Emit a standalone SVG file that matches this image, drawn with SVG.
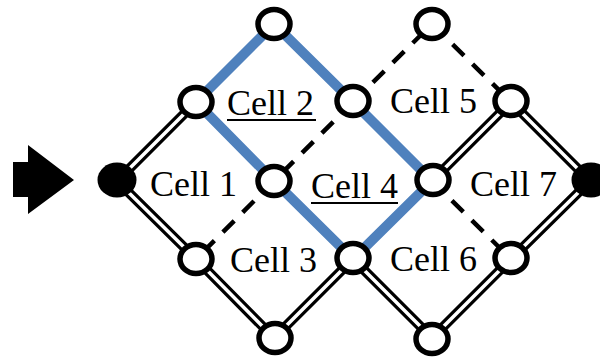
<svg xmlns="http://www.w3.org/2000/svg" width="600" height="358" viewBox="0 0 600 358">
<style>
.dbl-o{stroke:#000;stroke-width:10;fill:none}
.dbl-i{stroke:#fff;stroke-width:3.5;fill:none}
.dash{stroke:#000;stroke-width:4.5;stroke-dasharray:16 12;fill:none}
.blue{stroke:#4F81BD;stroke-width:10;fill:none;stroke-linecap:butt}
.open{fill:#fff;stroke:#000;stroke-width:5.5}
.full{fill:#000}
.lbl{font-family:"Liberation Serif","Times New Roman",serif;font-size:36px;fill:#000}
.ul{stroke:#000;stroke-width:2}
</style>
<rect width="600" height="358" fill="#fff"/>
<g id="arrow">
<polygon points="13,162 28,162 28,145 74,180 28,214 28,197 13,197" fill="#000"/>
</g>
<g id="connectors">
<g id="double-lines">
<path class="dbl-o" d="M117,181 L196,102 M117,181 L196,259 L274,338 L353,259 L432,338 L511,259 L590,181 L511,102 L432,181"/>
<path class="dbl-i" d="M117,181 L196,102 M117,181 L196,259 L274,338 L353,259 L432,338 L511,259 L590,181 L511,102 L432,181"/>
</g>
<g id="dashed-lines">
<path class="dash" d="M353,102 L432,24 L511,102"/>
<path class="dash" d="M353,102 L274,181 L196,259"/>
<path class="dash" d="M432,181 L511,259"/>
</g>
<g id="blue-path">
<path class="blue" d="M196,102 L274,24 L353,102 L432,181 L353,259 L274,181 Z"/>
</g>
</g>
<g id="node-A"><ellipse class="full" cx="117" cy="180" rx="19.5" ry="17.5"/></g>
<g id="node-G"><ellipse class="full" cx="591" cy="180" rx="19.5" ry="17.5"/></g>
<g id="node-B"><ellipse class="open" cx="196" cy="102" rx="16" ry="14.5"/></g>
<g id="node-C"><ellipse class="open" cx="274" cy="24" rx="16" ry="14.5"/></g>
<g id="node-D"><ellipse class="open" cx="353" cy="101" rx="16" ry="14.5"/></g>
<g id="node-E"><ellipse class="open" cx="432" cy="24" rx="16" ry="14.5"/></g>
<g id="node-F"><ellipse class="open" cx="511" cy="101" rx="16" ry="14.5"/></g>
<g id="node-H"><ellipse class="open" cx="274" cy="181" rx="16" ry="14.5"/></g>
<g id="node-I"><ellipse class="open" cx="433" cy="180" rx="16" ry="14.5"/></g>
<g id="node-J"><ellipse class="open" cx="196" cy="259" rx="16" ry="14.5"/></g>
<g id="node-K"><ellipse class="open" cx="353" cy="258" rx="16" ry="14.5"/></g>
<g id="node-L"><ellipse class="open" cx="511" cy="258" rx="16" ry="14.5"/></g>
<g id="node-M"><ellipse class="open" cx="275" cy="338" rx="16" ry="14.5"/></g>
<g id="node-N"><ellipse class="open" cx="432" cy="339" rx="16" ry="14.5"/></g>
<g id="labels">
<text class="lbl" x="150" y="196">Cell 1</text>
<text class="lbl" x="227" y="115">Cell 2</text>
<line class="ul" x1="227" y1="120" x2="316" y2="120"/>
<text class="lbl" x="230" y="272">Cell 3</text>
<text class="lbl" x="311" y="198">Cell 4</text>
<line class="ul" x1="311" y1="203" x2="398" y2="203"/>
<text class="lbl" x="390" y="113">Cell 5</text>
<text class="lbl" x="390" y="271">Cell 6</text>
<text class="lbl" x="470" y="196">Cell 7</text>
</g>
</svg>
